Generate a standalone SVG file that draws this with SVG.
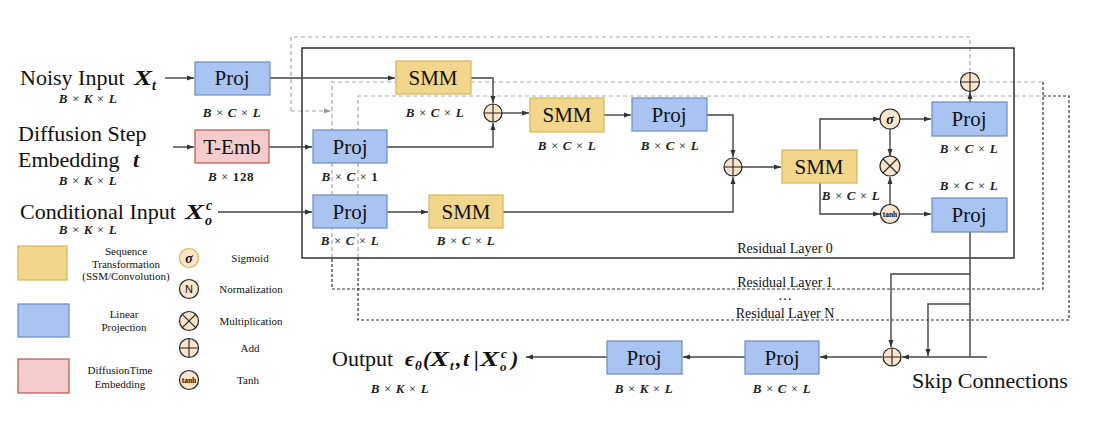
<svg xmlns="http://www.w3.org/2000/svg" width="1096" height="430" viewBox="0 0 1096 430">
<defs>
<marker id="arr" markerWidth="8" markerHeight="6" refX="7" refY="3" orient="auto" markerUnits="userSpaceOnUse">
<path d="M0,0.5 L7,3 L0,5.5 Z" fill="#333"/>
</marker>
<marker id="arrg" markerWidth="8" markerHeight="6" refX="7" refY="3" orient="auto" markerUnits="userSpaceOnUse">
<path d="M0,0.5 L7,3 L0,5.5 Z" fill="#999"/>
</marker>
<style>
.t{font-family:"Liberation Serif","Times New Roman",serif;fill:#111}
.big{font-size:22px}
.box{font-size:21px;text-anchor:middle}
.leg{font-size:11px;text-anchor:middle}
.rl{font-size:14px;text-anchor:middle}
.m{font-family:"Liberation Serif","Times New Roman",serif;font-weight:bold;font-style:italic;fill:#111}
.dim{font-family:"Liberation Serif","Times New Roman",serif;font-weight:bold;font-style:italic;font-size:13px;letter-spacing:0.6px;text-anchor:middle;fill:#222}
.x{font-weight:normal;font-style:normal}
.blue{fill:#A9C4F0;stroke:#6C8EBF;stroke-width:1.2}
.yel{fill:#F2D68C;stroke:#D6B656;stroke-width:1.2}
.red{fill:#F4CCCC;stroke:#B85450;stroke-width:1.2}
.op{fill:#FCE5CD;stroke:#222;stroke-width:1.2}
.c{fill:none;stroke:#444;stroke-width:1.4;marker-end:url(#arr)}
.cn{fill:none;stroke:#555;stroke-width:1.6}
.dl{fill:none;stroke:#aaa;stroke-width:1.2;stroke-dasharray:4 3}
.dd{fill:none;stroke:#333;stroke-width:1.2;stroke-dasharray:3 2}
</style>
</defs>
<rect width="1096" height="430" fill="#fff"/>

<g id="residual-layers">
<path class="dl" d="M291,111 V37 H970 V71"/>
<path class="dl" d="M291,111 H331" marker-end="url(#arrg)"/>
<path class="dl" d="M332,258 V82 H1043"/>
<path class="dd" d="M1043,82 V289 H332 V258"/>
<path class="dl" d="M358,258 V96 H1043"/>
<path class="dd" d="M1043,96 H1069 V320 H358 V258"/>
<rect x="302" y="48" width="712" height="210" fill="none" stroke="#222" stroke-width="1.4"/>
<text class="t rl" x="785" y="253">Residual Layer 0</text>
<text class="t rl" x="785" y="287">Residual Layer 1</text>
<text class="t rl" x="785" y="300">…</text>
<text class="t rl" x="785" y="318">Residual Layer N</text>
</g>

<g id="connectors">
<path class="c" d="M165,78 H194"/>
<path class="c" d="M270,78 H395"/>
<path class="c" d="M471,78 H493 V103"/>
<path class="c" d="M173,147 H194"/>
<path class="c" d="M269,147 H312"/>
<path class="c" d="M387,147 H493 V123"/>
<path class="c" d="M502,113 H529"/>
<path class="c" d="M604,115 H631"/>
<path class="c" d="M707,115 H733 V157"/>
<path class="c" d="M218,212 H312"/>
<path class="c" d="M387,212 H428"/>
<path class="c" d="M503,212 H733 V177"/>
<path class="c" d="M742,167 H781"/>
<path class="c" d="M820,150 V119 H880"/>
<path class="c" d="M820,183 V214 H880"/>
<path class="c" d="M890,129 V156"/>
<path class="c" d="M890,204 V177"/>
<path class="c" d="M900,119 H931"/>
<path class="c" d="M900,214 H931"/>
<path class="c" d="M970,102 V92"/>
<path class="cn" d="M970,232 V357"/>
<path class="c" d="M970,274 H891 V347"/>
<path class="c" d="M970,304 H928 V356"/>
<path class="c" d="M987,357 H902"/>
<path class="c" d="M882,357 H820"/>
<path class="c" d="M745,357 H683"/>
<path class="c" d="M607,357 H526"/>
</g>

<g id="input-noisy">
<text class="t big" x="20" y="85">Noisy Input</text>
<text class="m" x="134" y="85" font-size="22" textLength="18" lengthAdjust="spacingAndGlyphs">X</text>
<text class="m" x="152" y="90" font-size="14">t</text>
<text class="dim" x="88" y="103">B <tspan class="x">×</tspan> K <tspan class="x">×</tspan> L</text>
</g>
<g id="input-diffusion">
<text class="t big" x="18" y="141">Diffusion Step</text>
<text class="t big" x="18" y="167">Embedding</text>
<text class="m" x="133" y="167" font-size="22">t</text>
<text class="dim" x="88" y="185">B <tspan class="x">×</tspan> K <tspan class="x">×</tspan> L</text>
</g>
<g id="input-conditional">
<text class="t big" x="20" y="219">Conditional Input</text>
<text class="m" x="185" y="219" font-size="22" textLength="19" lengthAdjust="spacingAndGlyphs">X</text>
<text class="m" x="206" y="210" font-size="14">c</text>
<text class="m" x="205" y="225" font-size="14">o</text>
<text class="dim" x="88" y="234">B <tspan class="x">×</tspan> K <tspan class="x">×</tspan> L</text>
</g>

<g id="proj-noisy">
<rect class="blue" x="195" y="62" width="75" height="33"/>
<text class="t box" x="232" y="85">Proj</text>
<text class="dim" x="232" y="117">B <tspan class="x">×</tspan> C <tspan class="x">×</tspan> L</text>
</g>
<g id="t-emb">
<rect class="red" x="195" y="130" width="74" height="33"/>
<text class="t box" x="232" y="154">T-Emb</text>
<text class="dim" x="231" y="181">B <tspan class="x">×</tspan> <tspan font-style="normal">128</tspan></text>
</g>
<g id="proj-time">
<rect class="blue" x="313" y="130" width="74" height="33"/>
<text class="t box" x="350" y="154">Proj</text>
<text class="dim" x="350" y="181">B <tspan class="x">×</tspan> C <tspan class="x">×</tspan> <tspan font-style="normal">1</tspan></text>
</g>
<g id="proj-cond">
<rect class="blue" x="313" y="195" width="74" height="33"/>
<text class="t box" x="350" y="219">Proj</text>
<text class="dim" x="350" y="245">B <tspan class="x">×</tspan> C <tspan class="x">×</tspan> L</text>
</g>
<g id="smm-1">
<rect class="yel" x="396" y="61" width="75" height="33"/>
<text class="t box" x="433" y="85">SMM</text>
<text class="dim" x="435" y="117">B <tspan class="x">×</tspan> C <tspan class="x">×</tspan> L</text>
</g>
<g id="smm-cond">
<rect class="yel" x="429" y="195" width="74" height="33"/>
<text class="t box" x="466" y="219">SMM</text>
<text class="dim" x="466" y="245">B <tspan class="x">×</tspan> C <tspan class="x">×</tspan> L</text>
</g>
<g id="add-1">
<circle class="op" cx="493" cy="113" r="9"/>
<path d="M484,113 H502 M493,104 V122" stroke="#222" stroke-width="1.1"/>
</g>
<g id="smm-2">
<rect class="yel" x="530" y="98" width="74" height="34"/>
<text class="t box" x="567" y="122">SMM</text>
<text class="dim" x="567" y="150">B <tspan class="x">×</tspan> C <tspan class="x">×</tspan> L</text>
</g>
<g id="proj-3">
<rect class="blue" x="632" y="98" width="75" height="33"/>
<text class="t box" x="669" y="122">Proj</text>
<text class="dim" x="670" y="150">B <tspan class="x">×</tspan> C <tspan class="x">×</tspan> L</text>
</g>
<g id="add-2">
<circle class="op" cx="733" cy="167" r="9"/>
<path d="M724,167 H742 M733,158 V176" stroke="#222" stroke-width="1.1"/>
</g>
<g id="smm-4">
<rect class="yel" x="782" y="150" width="75" height="33"/>
<text class="t box" x="819" y="174">SMM</text>
<text class="dim" x="851" y="200">B <tspan class="x">×</tspan> C <tspan class="x">×</tspan> L</text>
</g>
<g id="sigmoid">
<circle class="op" cx="890" cy="119" r="10"/>
<text class="m" x="890" y="123.5" font-size="14" text-anchor="middle">σ</text>
</g>
<g id="mult">
<circle class="op" cx="890" cy="166" r="10"/>
<path d="M883,159 L897,173 M897,159 L883,173" stroke="#222" stroke-width="1.1"/>
</g>
<g id="tanh">
<circle class="op" cx="890" cy="214" r="9.5"/>
<text class="t" x="890" y="216.5" font-size="7.5" font-weight="bold" text-anchor="middle">tanh</text>
</g>
<g id="proj-5">
<rect class="blue" x="932" y="102" width="75" height="34"/>
<text class="t box" x="969" y="126">Proj</text>
<text class="dim" x="969" y="153">B <tspan class="x">×</tspan> C <tspan class="x">×</tspan> L</text>
</g>
<g id="proj-6">
<rect class="blue" x="932" y="198" width="75" height="34"/>
<text class="t box" x="969" y="222">Proj</text>
<text class="dim" x="969" y="190">B <tspan class="x">×</tspan> C <tspan class="x">×</tspan> L</text>
</g>
<g id="add-3">
<circle class="op" cx="970" cy="82" r="9.5"/>
<path d="M960.5,82 H979.5 M970,72.5 V91.5" stroke="#222" stroke-width="1.1"/>
</g>
<g id="add-skip">
<circle class="op" cx="892" cy="357" r="9"/>
<path d="M883,357 H901 M892,348 V366" stroke="#222" stroke-width="1.1"/>
</g>
<g id="skip-label">
<text class="t big" x="912" y="388">Skip Connections</text>
</g>
<g id="proj-7">
<rect class="blue" x="745" y="341" width="74" height="33"/>
<text class="t box" x="782" y="365">Proj</text>
<text class="dim" x="782" y="393">B <tspan class="x">×</tspan> C <tspan class="x">×</tspan> L</text>
</g>
<g id="proj-8">
<rect class="blue" x="607" y="341" width="75" height="33"/>
<text class="t box" x="644" y="365">Proj</text>
<text class="dim" x="644" y="393">B <tspan class="x">×</tspan> K <tspan class="x">×</tspan> L</text>
</g>
<g id="output">
<text class="t big" x="332" y="366">Output</text>
<text class="m" x="405" y="366" font-size="22">ϵ</text>
<text class="m" x="415" y="370" font-size="13">θ</text>
<text class="m" x="423" y="366" font-size="22" font-style="normal">(</text>
<text class="m" x="430" y="366" font-size="22" textLength="19" lengthAdjust="spacingAndGlyphs">X</text>
<text class="m" x="450" y="370" font-size="13">t</text>
<text class="m" x="456" y="366" font-size="22" font-style="normal">,</text>
<text class="m" x="463" y="366" font-size="22">t</text>
<text class="m" x="474" y="366" font-size="22" font-style="normal">|</text>
<text class="m" x="480" y="366" font-size="22" textLength="19" lengthAdjust="spacingAndGlyphs">X</text>
<text class="m" x="501" y="358" font-size="13">c</text>
<text class="m" x="500" y="371" font-size="13">o</text>
<text class="m" x="511" y="366" font-size="22" font-style="normal">)</text>
<text class="dim" x="400" y="393">B <tspan class="x">×</tspan> K <tspan class="x">×</tspan> L</text>
</g>

<g id="legend">
<rect class="yel" x="18" y="246" width="49" height="34"/>
<text class="t leg" x="126" y="255">Sequence</text>
<text class="t leg" x="126" y="268">Transformation</text>
<text class="t leg" x="126" y="280">(SSM/Convolution)</text>
<rect class="blue" x="18" y="304" width="51" height="33"/>
<text class="t leg" x="124" y="318">Linear</text>
<text class="t leg" x="124" y="331">Projection</text>
<rect class="red" x="18" y="359" width="51" height="34"/>
<text class="t leg" x="120" y="374">DiffusionTime</text>
<text class="t leg" x="120" y="388">Embedding</text>
<circle cx="189" cy="258" r="9.5" fill="#FCE5CD" stroke="#D6B656" stroke-width="1.2"/>
<text class="m" x="189" y="262.5" font-size="14" text-anchor="middle">σ</text>
<text class="t leg" x="250" y="262">Sigmoid</text>
<circle class="op" cx="189" cy="289" r="9.5"/>
<text x="189" y="293" font-family="Liberation Sans, Arial, sans-serif" font-size="11" text-anchor="middle" fill="#111">N</text>
<text class="t leg" x="251" y="293">Normalization</text>
<circle class="op" cx="189" cy="321" r="9.5"/>
<path d="M182.3,314.3 L195.7,327.7 M195.7,314.3 L182.3,327.7" stroke="#222" stroke-width="1.1"/>
<text class="t leg" x="251" y="325">Multiplication</text>
<circle class="op" cx="189" cy="348" r="9.5"/>
<path d="M179.5,348 H198.5 M189,338.5 V357.5" stroke="#222" stroke-width="1.1"/>
<text class="t leg" x="250" y="352">Add</text>
<circle class="op" cx="189" cy="380" r="9.5"/>
<text class="t" x="189" y="382.5" font-size="7.5" font-weight="bold" text-anchor="middle">tanh</text>
<text class="t leg" x="248" y="384">Tanh</text>
</g>
</svg>
